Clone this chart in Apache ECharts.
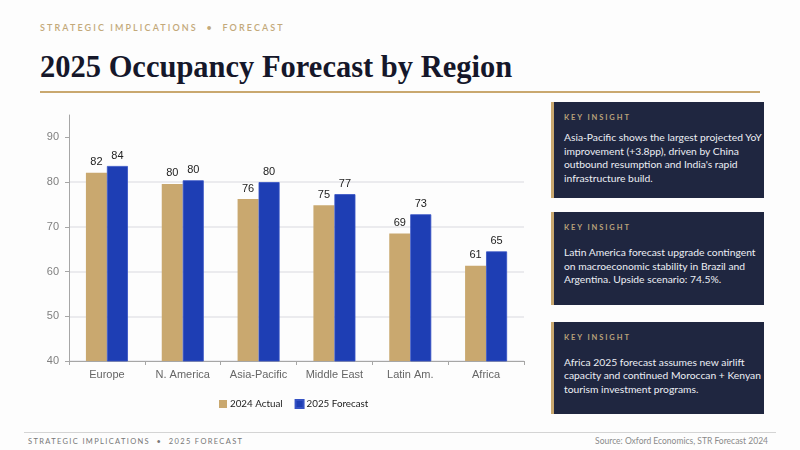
<!DOCTYPE html>
<html>
<head>
<meta charset="utf-8">
<script src="https://cdn.jsdelivr.net/npm/echarts@6/dist/echarts.min.js"></script>
<style>
  html, body { margin: 0; padding: 0; background: #fdfdfd; }
  #page { position: relative; width: 800px; height: 450px; overflow: hidden; font-family: Lato, "Open Sans", sans-serif; }
  .kicker { position: absolute; left: 40px; top: 22px; font-size: 9px; font-weight: 600; letter-spacing: 2.1px; color: #c3a97a; white-space: nowrap; }
  .title { position: absolute; left: 40px; top: 49px; font-family: "Liberation Serif", serif; font-weight: bold; font-size: 30.5px; line-height: 36px; color: #15172a; white-space: nowrap; }
  .rule { position: absolute; left: 40px; top: 91px; width: 720px; height: 2px; background: #c9a86f; }
  #chart { position: absolute; left: 0; top: 0; width: 540px; height: 430px; }
  .card { position: absolute; left: 551px; width: 200px; padding-left: 10px; border-left: 3px solid #c9a86f; background: #1f2640; display: flex; flex-direction: column; box-sizing: content-box; }
  .card .lbl { margin-top: 11px; font-size: 7.5px; font-weight: bold; letter-spacing: 1.9px; color: #b9a27a; }
  .card .txt { flex: 1; display: flex; align-items: center; font-size: 10.3px; line-height: 13.5px; color: #eceef4; white-space: nowrap; padding-bottom: 4px; }
  .foot-rule { position: absolute; left: 24px; top: 432px; width: 752px; height: 1px; background: #d4d4d4; }
  .foot { position: absolute; left: 28px; top: 437px; font-size: 7.5px; letter-spacing: 1.35px; color: #777; white-space: nowrap; }
  .source { position: absolute; right: 32px; top: 436px; font-size: 8.5px; color: #8a8a8a; white-space: nowrap; }
</style>
</head>
<body>
<div id="page">
  <div class="kicker">STRATEGIC IMPLICATIONS &nbsp;•&nbsp; FORECAST</div>
  <div class="title">2025 Occupancy Forecast by Region</div>
  <div class="rule"></div>
  <div id="chart"></div>

  <div class="card" style="top:102px;height:96px;">
    <div class="lbl">KEY INSIGHT</div>
    <div class="txt"><div>Asia-Pacific shows the largest projected YoY<br>improvement (+3.8pp), driven by China<br>outbound resumption and India's rapid<br>infrastructure build.</div></div>
  </div>
  <div class="card" style="top:212px;height:93px;">
    <div class="lbl">KEY INSIGHT</div>
    <div class="txt"><div>Latin America forecast upgrade contingent<br>on macroeconomic stability in Brazil and<br>Argentina. Upside scenario: 74.5%.</div></div>
  </div>
  <div class="card" style="top:322px;height:92px;">
    <div class="lbl">KEY INSIGHT</div>
    <div class="txt"><div>Africa 2025 forecast assumes new airlift<br>capacity and continued Moroccan + Kenyan<br>tourism investment programs.</div></div>
  </div>

  <div class="foot-rule"></div>
  <div class="foot">STRATEGIC IMPLICATIONS &nbsp;•&nbsp; 2025 FORECAST</div>
  <div class="source">Source: Oxford Economics, STR Forecast 2024</div>
</div>
<script>
// regions and occupancy (%)
const regions = ['Europe', 'N. America', 'Asia-Pacific', 'Middle East', 'Latin Am.', 'Africa'];
const actual2024 = [82.1, 79.6, 76.2, 74.8, 68.5, 61.3];
const forecast2025 = [83.6, 80.4, 80.0, 77.3, 72.8, 64.5];
const yTicks = [40, 50, 60, 70, 80, 90];

const gold = '#c9a86f';
const blue = '#1e3eb4';

const labelStyle = {
  show: true,
  position: 'top',
  distance: 5,
  fontFamily: 'Liberation Sans, Arial, sans-serif',
  fontSize: 11,
  color: '#222',
  formatter: (p) => Math.round(p.value)
};

const option = {
  animation: false,
  grid: { left: 69, top: 115, width: 455, height: 246 },
  legend: {
    left: 214,
    top: 394,
    itemWidth: 8,
    itemHeight: 8,
    itemGap: 12,
    icon: 'rect',
    textStyle: { fontFamily: 'Lato, sans-serif', fontSize: 9.8, color: '#222', padding: [0, 0, 0, -2] },
    data: ['2024 Actual', '2025 Forecast']
  },
  xAxis: {
    type: 'category',
    data: regions,
    axisLine: { lineStyle: { color: '#a6a6a6', width: 1 } },
    axisTick: { show: true, length: 4, lineStyle: { color: '#a6a6a6' } },
    axisLabel: { fontFamily: 'Liberation Sans, Arial, sans-serif', fontSize: 11, color: '#666', margin: 8 }
  },
  yAxis: {
    type: 'value',
    min: 40,
    max: 95,
    interval: 10,
    axisLine: { show: true, lineStyle: { color: '#a6a6a6', width: 1 } },
    axisTick: { show: true, length: 4, customValues: yTicks, lineStyle: { color: '#a6a6a6' } },
    axisLabel: { customValues: yTicks, fontFamily: 'Liberation Sans, Arial, sans-serif', fontSize: 11, color: '#808080', margin: 10 },
    splitLine: { show: true, showMaxLine: false, lineStyle: { color: '#e4e4e8', width: 1.5 } }
  },
  series: [
    {
      name: '2024 Actual',
      type: 'bar',
      data: actual2024,
      barWidth: 21,
      barGap: '0%',
      itemStyle: { color: gold },
      label: labelStyle
    },
    {
      name: '2025 Forecast',
      type: 'bar',
      data: forecast2025,
      barWidth: 21,
      itemStyle: { color: blue, borderColor: '#3552c4', borderWidth: 0.8 },
      label: labelStyle
    }
  ]
};

const myChart = echarts.init(document.getElementById('chart'));
myChart.setOption(option);
</script>
</body>
</html>
